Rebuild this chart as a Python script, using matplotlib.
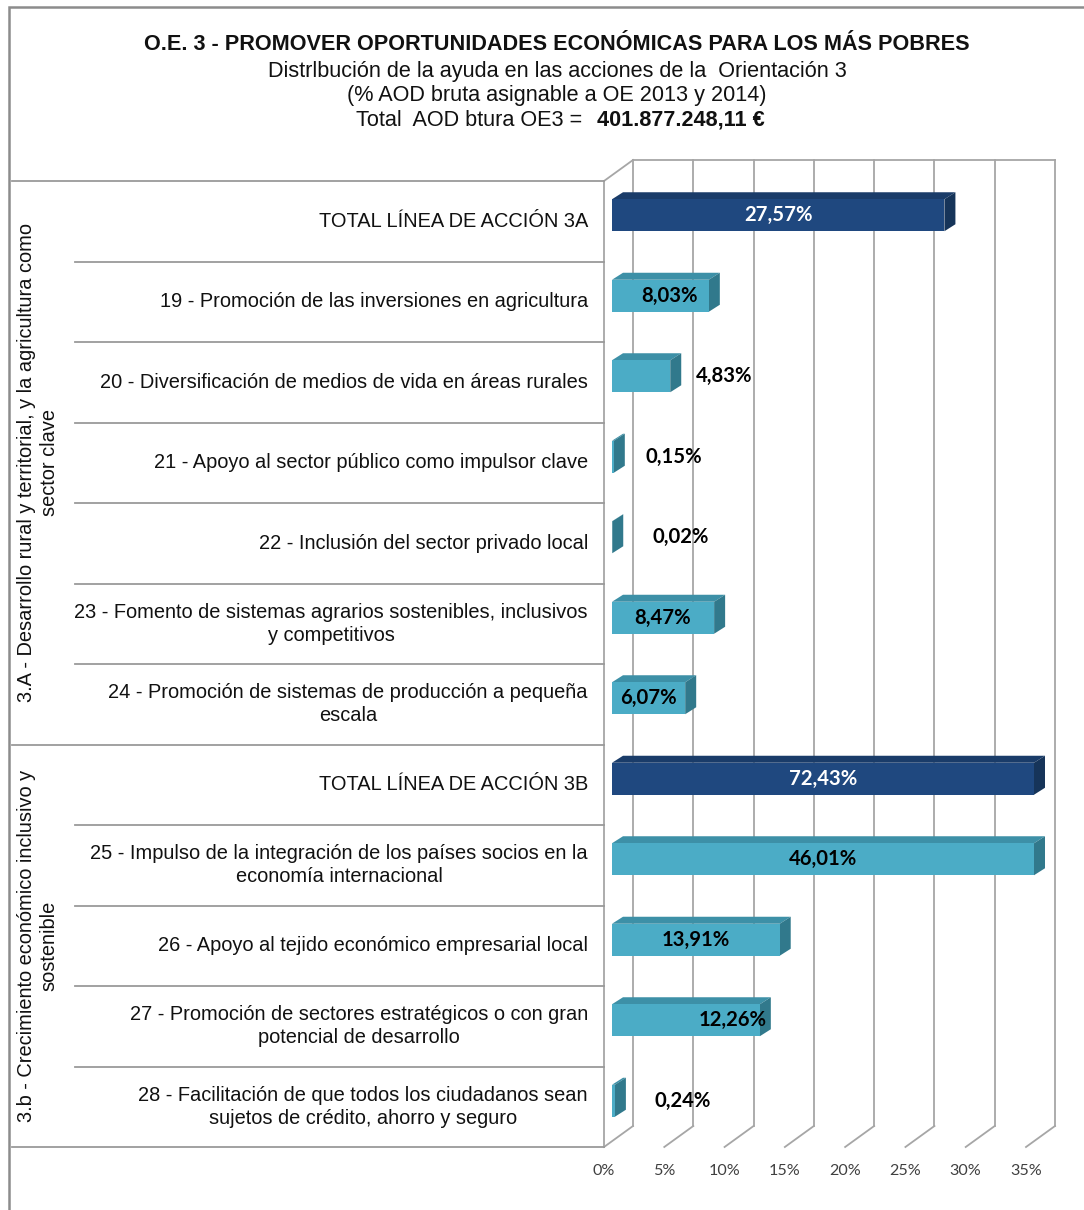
import matplotlib
matplotlib.use("Agg")
import matplotlib.pyplot as plt
from matplotlib.patches import Polygon, Rectangle

# ---------------- data ----------------
categories = [
    "TOTAL LÍNEA DE ACCIÓN 3A",
    "19 - Promoción de las inversiones en agricultura",
    "20 - Diversificación de medios de vida en áreas rurales",
    "21 - Apoyo al sector público como impulsor clave",
    "22 - Inclusión del sector privado local",
    "23 - Fomento de sistemas agrarios sostenibles, inclusivos\ny competitivos",
    "24 - Promoción de sistemas de producción a pequeña\nescala",
    "TOTAL LÍNEA DE ACCIÓN 3B",
    "25 - Impulso de la integración de los países socios en la\neconomía internacional",
    "26 - Apoyo al tejido económico empresarial local",
    "27 - Promoción de sectores estratégicos o con gran\npotencial de desarrollo",
    "28 - Facilitación de que todos los ciudadanos sean\nsujetos de crédito, ahorro y seguro",
]
values = [27.57, 8.03, 4.83, 0.15, 0.02, 8.47, 6.07, 72.43, 46.01, 13.91, 12.26, 0.24]
is_total = [True, False, False, False, False, False, False, True, False, False, False, False]
value_labels = ["27,57%", "8,03%", "4,83%", "0,15%", "0,02%", "8,47%", "6,07%",
                "72,43%", "46,01%", "13,91%", "12,26%", "0,24%"]
groups = ["3.A - Desarrollo rural y territorial, y la agricultura como\nsector clave",
          "3.b - Crecimiento económico inclusivo y\nsostenible"]
group_rows = [(0, 6), (7, 11)]
x_ticks = [0, 5, 10, 15, 20, 25, 30, 35]
x_max = 35

title = "O.E. 3 - PROMOVER OPORTUNIDADES ECONÓMICAS PARA LOS MÁS POBRES"
subtitle1 = "Distrlbución de la ayuda en las acciones de la  Orientación 3"
subtitle2 = "(% AOD bruta asignable a OE 2013 y 2014)"
subtitle3a = "Total  AOD btura OE3 =  "
subtitle3b = "401.877.248,11 €"

# label placement overrides (x in % on front plane), None = centred in bar
label_x = [None, 5.4, 10.0, 5.8, 6.4, None, None, None, None, None, 10.7, 6.5]

# ---------------- layout ----------------
W, H = 1084, 1210
fig = plt.figure(figsize=(W / 100, H / 100), dpi=100)
L, R, T, B = 604, 1026, 181, 1147
ax = fig.add_axes([L / W, 1 - B / H, (R - L) / W, (B - T) / H])
n = len(categories)
ax.set_xlim(0, x_max)
ax.set_ylim(n - 0.5, -0.5)
ax.axis("off")

ppx = (R - L) / x_max
ppy = (B - T) / n


def dxy(px, py):
    return px / ppx, -py / ppy


grid_c = "#a6a6a6"
sep_c = "#9a9a9a"
txt_c = "#111111"

# back wall (offset in depth)
bx, by = dxy(29, 21)
ytop, ybot = -0.5, n - 0.5
for t in x_ticks:
    ax.plot([t + bx, t + bx], [ytop + by, ybot + by], color=grid_c, lw=1.3, clip_on=False, zorder=1)
    if t > 0:
        ax.plot([t, t + bx], [ybot, ybot + by], color=grid_c, lw=1.3, clip_on=False, zorder=1)
ax.plot([bx, x_max + bx], [ytop + by, ytop + by], color=grid_c, lw=1.3, clip_on=False, zorder=1)
# left side wall
ax.plot([0, 0], [ytop, ybot], color=grid_c, lw=1.3, clip_on=False, zorder=1)
ax.plot([0, bx], [ytop, ytop + by], color=grid_c, lw=1.3, clip_on=False, zorder=1)
ax.plot([0, bx], [ybot, ybot + by], color=grid_c, lw=1.3, clip_on=False, zorder=1)

# category separators
x_row = (75 - L) / ppx
x_grp = (12 - L) / ppx
group_bounds = {g[0] for g in group_rows} | {n}
for k in range(n + 1):
    xs = x_grp if k in group_bounds else x_row
    ax.plot([xs, 0], [k - 0.5, k - 0.5], color=sep_c, lw=1.3, clip_on=False, zorder=1)

# ---------------- bars ----------------
fx, fy = dxy(8, 6)
ddx, ddy = dxy(11, 7)
h = 32 / ppy
dark = ("#1F487F", "#1A3C69", "#163459")
light = ("#4BACC6", "#3D90A7", "#31798C")

ys = [i + fy for i in range(n)]
vc = [min(v, x_max) for v in values]
cols = [dark[0] if t else light[0] for t in is_total]
ax.barh(ys, vc, height=h, left=fx, color=cols, edgecolor="none", zorder=3, clip_on=False)
for i in range(n):
    pal = dark if is_total[i] else light
    y0 = ys[i] - h / 2
    y1 = ys[i] + h / 2
    x1 = fx + vc[i]
    top = Polygon([(fx, y0), (x1, y0), (x1 + ddx, y0 + ddy), (fx + ddx, y0 + ddy)],
                  closed=True, facecolor=pal[1], edgecolor="none", zorder=2, clip_on=False)
    side = Polygon([(x1, y0), (x1, y1), (x1 + ddx, y1 + ddy), (x1 + ddx, y0 + ddy)],
                   closed=True, facecolor=pal[2], edgecolor="none", zorder=2, clip_on=False)
    ax.add_patch(top)
    ax.add_patch(side)
    lx = fx + vc[i] / 2 if label_x[i] is None else label_x[i]
    ax.text(lx, ys[i], value_labels[i], ha="center", va="center", fontsize=14.6,
            family="Lato", fontweight="bold",
            color="white" if is_total[i] else "black", zorder=5, clip_on=False)

# ---------------- category labels ----------------
for i, c in enumerate(categories):
    ax.text(-16 / ppx, i, c, ha="right", va="center", multialignment="center",
            fontsize=14.4, family="Liberation Sans", color=txt_c, clip_on=False,
            linespacing=1.25)

for g, (a, b) in zip(groups, group_rows):
    ax.text((38 - L) / ppx, (a + b) / 2, g, ha="center", va="center", rotation=90,
            multialignment="center", fontsize=14.4, family="Liberation Sans",
            color=txt_c, clip_on=False, linespacing=1.25)

# x tick labels
for t in x_ticks:
    ax.text(t, ybot + 24 / ppy, f"{t}%", ha="center", va="center", fontsize=11.6,
            family="Lato", color="#404040", clip_on=False)

# ---------------- titles ----------------
cx = 557 / W
fig.text(cx, 1 - 45 / H, title, ha="center", va="center", fontsize=15.6,
         family="Liberation Sans", fontweight="bold", color=txt_c)
fig.text(cx, 1 - 71 / H, subtitle1, ha="center", va="center", fontsize=15.6,
         family="Liberation Sans", color=txt_c)
fig.text(cx, 1 - 96 / H, subtitle2, ha="center", va="center", fontsize=15.6,
         family="Liberation Sans", color=txt_c)
fig.text(594 / W, 1 - 120 / H, subtitle3a, ha="right", va="center", fontsize=15.6,
         family="Liberation Sans", color=txt_c)
fig.text(597 / W, 1 - 120 / H, subtitle3b, ha="left", va="center", fontsize=15.6,
         family="Liberation Sans", fontweight="bold", color=txt_c)

# outer border
fig.patches.append(Rectangle((9 / W, -0.05), 1.2, 1 - 7 / H + 0.05, transform=fig.transFigure,
                             fill=False, edgecolor="#8c8c8c", lw=1.8))

fig.savefig("out.png", dpi=100, facecolor="white")
